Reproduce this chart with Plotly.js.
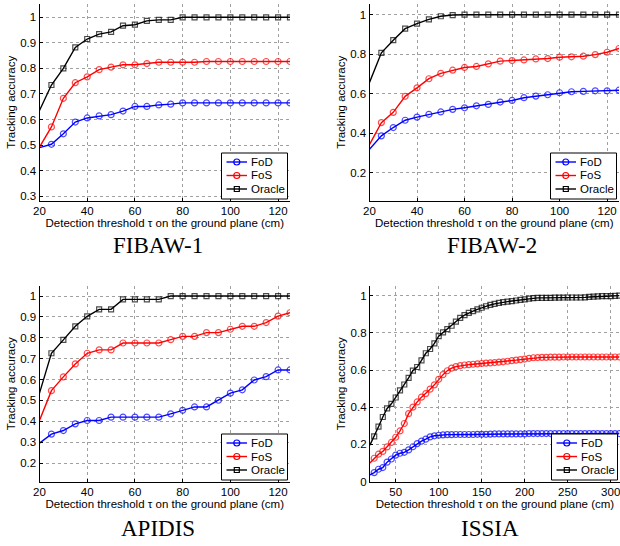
<!DOCTYPE html>
<html>
<head>
<meta charset="utf-8">
<script src="https://cdn.plot.ly/plotly-3.0.1.min.js"></script>
<style>html,body{margin:0;padding:0;background:#fff;}#chart{width:620px;height:546px;}</style>
</head>
<body>
<div id="chart"></div>
<script>
// ---------- DATA ----------
const panelTitles = ["FIBAW-1", "FIBAW-2", "APIDIS", "ISSIA"];
const seriesNames = ["FoD", "FoS", "Oracle"];

const xSmall = [20,25,30,35,40,45,50,55,60,65,70,75,80,85,90,95,100,105,110,115,120,125];

const fibaw1FoD    = [0.490,0.503,0.544,0.590,0.606,0.614,0.619,0.633,0.651,0.651,0.657,0.660,0.665,0.665,0.665,0.665,0.665,0.665,0.665,0.665,0.665,0.665];
const fibaw1FoS    = [0.492,0.571,0.683,0.744,0.767,0.795,0.805,0.814,0.814,0.819,0.824,0.824,0.824,0.824,0.827,0.827,0.827,0.827,0.827,0.827,0.827,0.827];
const fibaw1Oracle = [0.635,0.735,0.800,0.882,0.915,0.934,0.943,0.967,0.971,0.986,0.990,0.990,1,1,1,1,1,1,1,1,1,1];

const fibaw2FoD    = [0.319,0.387,0.429,0.466,0.482,0.496,0.508,0.521,0.529,0.539,0.546,0.558,0.566,0.580,0.588,0.595,0.605,0.610,0.612,0.615,0.615,0.618];
const fibaw2FoS    = [0.343,0.454,0.506,0.587,0.630,0.676,0.703,0.719,0.733,0.738,0.751,0.765,0.768,0.771,0.776,0.778,0.785,0.787,0.790,0.798,0.810,0.829];
const fibaw2Oracle = [0.657,0.807,0.871,0.929,0.955,0.976,0.992,0.998,1,1,1,1,1,1,1,1,1,1,1,1,1,1];

const apidisFoD    = [0.296,0.339,0.356,0.388,0.404,0.404,0.420,0.420,0.420,0.420,0.420,0.436,0.453,0.469,0.469,0.501,0.535,0.551,0.598,0.614,0.646,0.646];
const apidisFoS    = [0.404,0.547,0.613,0.675,0.726,0.742,0.742,0.775,0.775,0.775,0.775,0.791,0.807,0.807,0.825,0.825,0.841,0.855,0.855,0.873,0.904,0.920];
const apidisOracle = [0.535,0.726,0.790,0.855,0.903,0.936,0.936,0.984,0.984,0.984,0.984,1,1,1,1,1,1,1,1,1,1,1];

const xIssia = [20,25,30,35,40,45,50,55,60,65,70,75,80,85,90,95,100,105,110,115,120,125,130,135,140,145,150,155,160,165,170,175,180,185,190,195,200,205,210,215,220,225,230,235,240,245,250,255,260,265,270,275,280,285,290,295,300,305,310];
const issiaFoD    = [0.036,0.048,0.066,0.075,0.104,0.121,0.142,0.152,0.157,0.170,0.187,0.204,0.217,0.228,0.240,0.246,0.249,0.251,0.252,0.252,0.253,0.253,0.253,0.253,0.253,0.254,0.254,0.254,0.255,0.256,0.256,0.256,0.256,0.256,0.256,0.256,0.256,0.258,0.258,0.258,0.258,0.258,0.258,0.258,0.258,0.258,0.258,0.258,0.258,0.258,0.258,0.258,0.258,0.258,0.258,0.258,0.258,0.258,0.258];
const issiaFoS    = [0.100,0.125,0.147,0.162,0.186,0.210,0.238,0.272,0.312,0.365,0.400,0.428,0.454,0.473,0.497,0.520,0.550,0.575,0.596,0.610,0.618,0.623,0.627,0.629,0.631,0.633,0.635,0.637,0.638,0.640,0.642,0.644,0.647,0.650,0.653,0.656,0.659,0.663,0.666,0.667,0.668,0.668,0.669,0.669,0.669,0.670,0.670,0.670,0.670,0.670,0.670,0.670,0.670,0.670,0.670,0.670,0.670,0.670,0.670];
const issiaOracle = [0.196,0.243,0.295,0.347,0.393,0.418,0.452,0.490,0.522,0.558,0.597,0.616,0.652,0.690,0.713,0.743,0.782,0.802,0.820,0.838,0.860,0.880,0.895,0.907,0.917,0.926,0.935,0.943,0.950,0.956,0.961,0.965,0.968,0.971,0.974,0.977,0.980,0.984,0.987,0.988,0.988,0.988,0.988,0.989,0.989,0.990,0.990,0.990,0.990,0.990,0.991,0.993,0.995,0.996,0.997,0.997,0.998,0.999,1.000];

const xTicksSmall = [20,40,60,80,100,120];
const xTicksIssia = [50,100,150,200,250,300];
const yTicks1 = [0.3,0.4,0.5,0.6,0.7,0.8,0.9,1];
const yTicks2 = [0.2,0.4,0.6,0.8,1];
const yTicks3 = [0.2,0.3,0.4,0.5,0.6,0.7,0.8,0.9,1];
const yTicks4 = [0,0.2,0.4,0.6,0.8,1];

// ---------- LAYOUT ----------
const W = 620, H = 546;
const FONT = "Liberation Sans, Arial, Helvetica, sans-serif";
const SERIF = "Liberation Serif, Times New Roman, serif";
const FS = 11.5;
const colors = ["#0000ff", "#ff0000", "#000000"];
const symbols = ["circle-open", "circle-open", "square-open"];
const msize = [6, 6, 5];

// pixel boxes [left, right, top, bottom]
const boxes = [
  [39.5, 290, 4, 200.5],
  [369.5, 619, 4, 200.5],
  [39.5, 290, 286, 481.5],
  [369.9, 620, 286, 481.5]
];
const xRanges = [[20,125],[20,125],[20,125],[20,310.8]];
const yRanges = [[0.283,1.052],[0.06,1.054],[0.112,1.048],[0,1.052]];
const xTicks = [xTicksSmall, xTicksSmall, xTicksSmall, xTicksIssia];
const yTicks = [yTicks1, yTicks2, yTicks3, yTicks4];
const xData = [xSmall, xSmall, xSmall, xIssia];
const yData = [
  [fibaw1FoD, fibaw1FoS, fibaw1Oracle],
  [fibaw2FoD, fibaw2FoS, fibaw2Oracle],
  [apidisFoD, apidisFoS, apidisOracle],
  [issiaFoD, issiaFoS, issiaOracle]
];
const titleCenters = [[158, 246], [492, 246], [158, 528], [490, 528]];

const px = v => v / W;
const py = v => 1 - v / H;

const traces = [];
const shapes = [];
const annotations = [];
const layout = {
  width: W, height: H,
  margin: {l:0, r:0, t:0, b:0},
  paper_bgcolor: "#fff", plot_bgcolor: "#fff",
  font: {family: FONT, size: FS, color: "#000"},
  showlegend: false
};

for (let p = 0; p < 4; p++) {
  const n = p + 1;
  const xa = "xaxis" + (n === 1 ? "" : n);
  const ya = "yaxis" + (n === 1 ? "" : n);
  const xr = "x" + (n === 1 ? "" : n);
  const yr = "y" + (n === 1 ? "" : n);
  const b = boxes[p];
  layout[xa] = {
    domain: [px(b[0]), px(b[1])], anchor: yr, range: xRanges[p],
    tickmode: "array", tickvals: xTicks[p],
    ticks: "inside", ticklen: 3, tickcolor: "#000",
    ticklabeloverflow: "allow",
    showline: true, linecolor: "#000", linewidth: 1, mirror: false,
    showgrid: true, gridcolor: "#a0a0a0", griddash: "dot", gridwidth: 1,
    zeroline: false, tickfont: {size: FS, family: FONT, color: "#000"},
    title: {text: "Detection threshold τ on the ground plane (cm)", font: {size: FS, family: FONT, color: "#000"}, standoff: 0},
    automargin: false
  };
  layout[ya] = {
    domain: [py(b[3]), py(b[2])], anchor: xr, range: yRanges[p],
    tickmode: "array", tickvals: yTicks[p],
    ticks: "inside", ticklen: 3, tickcolor: "#000",
    ticklabeloverflow: "allow",
    showline: true, linecolor: "#000", linewidth: 1, mirror: false,
    showgrid: true, gridcolor: "#a0a0a0", griddash: "dot", gridwidth: 1,
    zeroline: false, tickfont: {size: FS, family: FONT, color: "#000"},
    title: {text: "Tracking accuracy", font: {size: FS, family: FONT, color: "#000"}, standoff: 2},
    automargin: false
  };
  for (let s = 0; s < 3; s++) {
    const xs = xData[p];
    traces.push({
      type: "scatter", mode: "lines+markers",
      x: xs, y: yData[p][s],
      xaxis: xr, yaxis: yr,
      name: seriesNames[s],
      line: {color: colors[s], width: 1.4},
      marker: {
        symbol: symbols[s],
        size: xs.map((v, i) => i === 0 ? 0 : msize[s]),
        color: colors[s], line: {width: 1.2, color: colors[s]}
      }
    });
  }

  // compact MATLAB-style legend box at lower right of each panel
  const R = b[1] - 2.5, B = b[3] - 1.5, LW = 66, LH = 46;
  const L = R - LW, T = B - LH;
  shapes.push({type: "rect", xref: "paper", yref: "paper",
    x0: px(L), x1: px(R), y0: py(B), y1: py(T),
    line: {color: "#000", width: 1}, fillcolor: "#fff", layer: "above"});
  const rows = [T + 9, T + 22.5, T + 36];
  for (let s = 0; s < 3; s++) {
    const ry = rows[s];
    shapes.push({type: "line", xref: "paper", yref: "paper",
      x0: px(L + 5), x1: px(L + 25.5), y0: py(ry), y1: py(ry),
      line: {color: colors[s], width: 1.4}, layer: "above"});
    const h = s === 2 ? 2.5 : 3;
    shapes.push({type: s === 2 ? "rect" : "circle", xref: "paper", yref: "paper",
      xsizemode: "pixel", ysizemode: "pixel",
      xanchor: px(L + 15.3), yanchor: py(ry),
      x0: -h, x1: h, y0: -h, y1: h,
      line: {color: colors[s], width: 1.2}, fillcolor: "rgba(0,0,0,0)", layer: "above"});
    annotations.push({text: seriesNames[s], xref: "paper", yref: "paper",
      x: px(L + 27.5), y: py(ry), xanchor: "left", yanchor: "middle",
      showarrow: false, font: {family: FONT, size: FS, color: "#000"}});
  }

  annotations.push({
    text: panelTitles[p], xref: "paper", yref: "paper",
    x: px(titleCenters[p][0]), y: py(titleCenters[p][1]),
    xanchor: "center", yanchor: "middle", showarrow: false,
    font: {family: SERIF, size: 23, color: "#000"}
  });
}
layout.shapes = shapes;
layout.annotations = annotations;

Plotly.newPlot("chart", traces, layout, {staticPlot: true, displayModeBar: false});
</script>
</body>
</html>
